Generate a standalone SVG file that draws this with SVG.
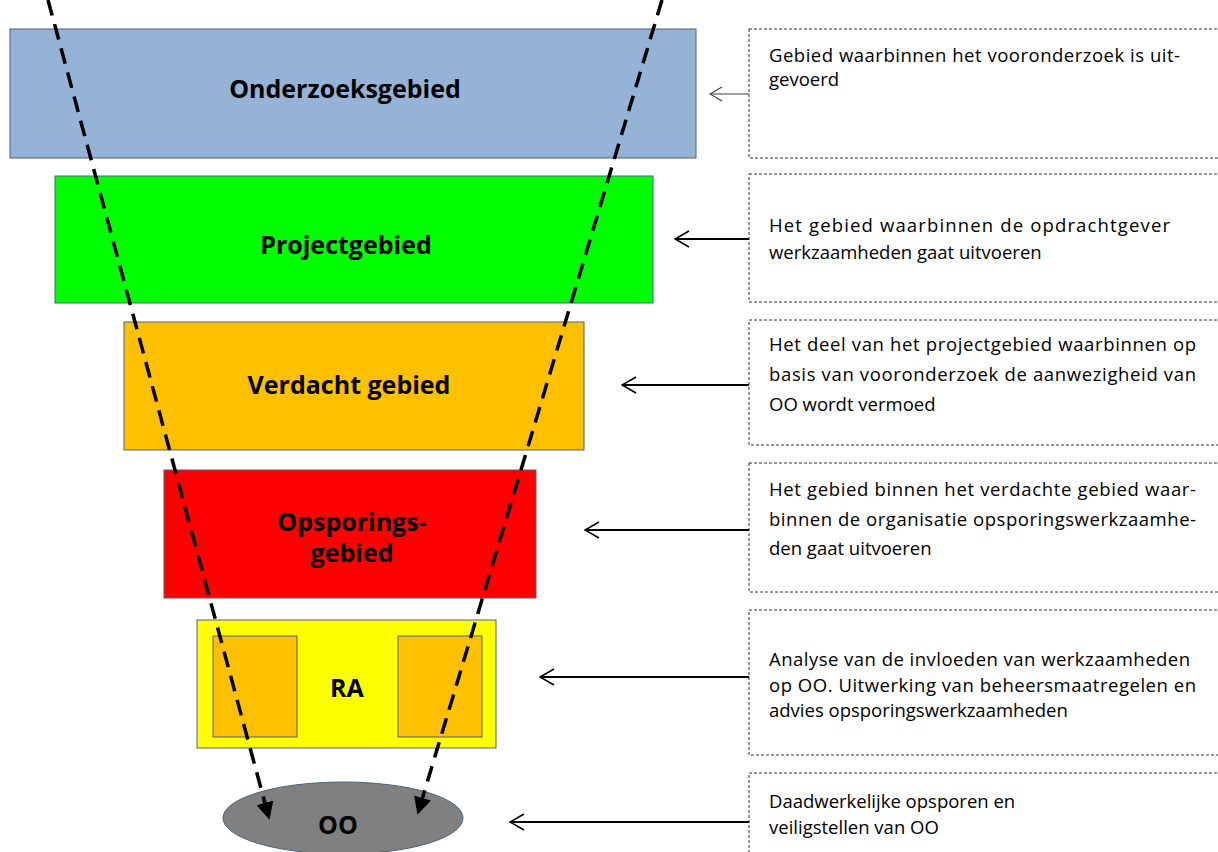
<svg xmlns="http://www.w3.org/2000/svg" width="1218" height="852" viewBox="0 0 1218 852">
<style>
.node{stroke:#4A6283;stroke-width:1}
.lbl{font-family:"Open Sans","Liberation Sans",sans-serif;font-weight:bold;font-size:25px;fill:#000;text-anchor:middle}
.note{fill:#fff;stroke:#333;stroke-width:1;stroke-dasharray:3 2}
.nt{font-family:"Open Sans","Liberation Sans",sans-serif;font-size:18.5px;fill:#000}
.arr{stroke:#000;stroke-width:2;fill:none}
.dash{stroke:#000;stroke-width:3.5;stroke-dasharray:16 9;fill:none}
</style>
<defs>
<marker id="open" viewBox="0 0 16 18" refX="15" refY="9" markerWidth="16" markerHeight="18" markerUnits="userSpaceOnUse" orient="auto">
<path d="M1,1 L15,9 L1,17" fill="none" stroke="#000" stroke-width="1.6"/>
</marker>
<marker id="openg" viewBox="0 0 14 16" refX="13" refY="8" markerWidth="14" markerHeight="16" markerUnits="userSpaceOnUse" orient="auto">
<path d="M1,1 L13,8 L1,15" fill="none" stroke="#404040" stroke-width="1.2"/>
</marker>
<marker id="tri" viewBox="0 0 10 10" refX="9" refY="5" markerWidth="5" markerHeight="5" orient="auto">
<path d="M0,0 L10,5 L0,10 Z" fill="#000"/>
</marker>
</defs>

<g id="n-onderzoeksgebied">
<rect class="node" x="10" y="29" width="686" height="129" fill="#95B3D7"/>
<text class="lbl" x="345" y="98">Onderzoeksgebied</text>
</g>
<g id="n-projectgebied">
<rect class="node" x="55" y="176" width="598" height="127" fill="#00FF00"/>
<text class="lbl" x="346" y="254">Projectgebied</text>
</g>
<g id="n-verdacht">
<rect class="node" x="124" y="322" width="460" height="128" fill="#FFC000"/>
<text class="lbl" x="349" y="394">Verdacht gebied</text>
</g>
<g id="n-opsporing">
<rect class="node" x="164" y="470" width="372" height="128" fill="#FF0000"/>
<text class="lbl" x="352" y="531">Opsporings-</text>
<text class="lbl" x="352" y="562">gebied</text>
</g>
<g id="n-ra">
<rect class="node" x="197" y="620" width="299" height="128" fill="#FFFF00"/>
<rect class="node" x="213" y="636" width="84" height="101" fill="#FFC000"/>
<rect class="node" x="398" y="636" width="84" height="101" fill="#FFC000"/>
<text class="lbl" x="347" y="697">RA</text>
</g>
<g id="n-oo">
<ellipse class="node" cx="343" cy="818" rx="120" ry="36" fill="#808080"/>
<text class="lbl" x="338" y="834">OO</text>
</g>

<g id="note-a">
<rect class="note" x="749" y="29" width="480" height="129"/>
<text class="nt" x="769" y="62" textLength="411" lengthAdjust="spacing">Gebied waarbinnen het vooronderzoek is uit-</text>
<text class="nt" x="769" y="86">gevoerd</text>
</g>
<g id="note-b">
<rect class="note" x="749" y="174" width="480" height="128"/>
<text class="nt" x="769" y="232" textLength="401" lengthAdjust="spacing">Het  gebied  waarbinnen  de   opdrachtgever</text>
<text class="nt" x="769" y="259">werkzaamheden gaat uitvoeren</text>
</g>
<g id="note-c">
<rect class="note" x="749" y="320" width="480" height="125"/>
<text class="nt" x="769" y="351" textLength="427" lengthAdjust="spacing">Het deel van het projectgebied waarbinnen op</text>
<text class="nt" x="769" y="381" textLength="427" lengthAdjust="spacing">basis van vooronderzoek de aanwezigheid van</text>
<text class="nt" x="769" y="411">OO wordt vermoed</text>
</g>
<g id="note-d">
<rect class="note" x="749" y="463" width="480" height="129"/>
<text class="nt" x="769" y="496" textLength="427" lengthAdjust="spacing">Het gebied binnen het verdachte gebied waar-</text>
<text class="nt" x="769" y="526" textLength="427" lengthAdjust="spacing">binnen de organisatie opsporingswerkzaamhe-</text>
<text class="nt" x="769" y="555">den gaat uitvoeren</text>
</g>
<g id="note-e">
<rect class="note" x="749" y="610" width="480" height="145"/>
<text class="nt" x="769" y="666" textLength="421" lengthAdjust="spacing">Analyse van de invloeden van werkzaamheden</text>
<text class="nt" x="769" y="692" textLength="427" lengthAdjust="spacing">op OO. Uitwerking van beheersmaatregelen en</text>
<text class="nt" x="769" y="717">advies opsporingswerkzaamheden</text>
</g>
<g id="note-f">
<rect class="note" x="749" y="773" width="480" height="100"/>
<text class="nt" x="769" y="808">Daadwerkelijke opsporen en</text>
<text class="nt" x="769" y="834">veiligstellen van OO</text>
</g>

<g id="connectors">
<line x1="749" y1="94" x2="710" y2="94" stroke="#404040" stroke-width="1.2" marker-end="url(#openg)"/>
<line class="arr" x1="749" y1="239" x2="675" y2="239" marker-end="url(#open)"/>
<line class="arr" x1="749" y1="385" x2="622" y2="385" marker-end="url(#open)"/>
<line class="arr" x1="749" y1="530" x2="585" y2="530" marker-end="url(#open)"/>
<line class="arr" x1="749" y1="677" x2="540" y2="677" marker-end="url(#open)"/>
<line class="arr" x1="749" y1="822" x2="510" y2="822" marker-end="url(#open)"/>
<line class="dash" x1="48" y1="0" x2="269" y2="818" marker-end="url(#tri)"/>
<line class="dash" x1="662" y1="0" x2="418" y2="813" marker-end="url(#tri)"/>
</g>
</svg>
